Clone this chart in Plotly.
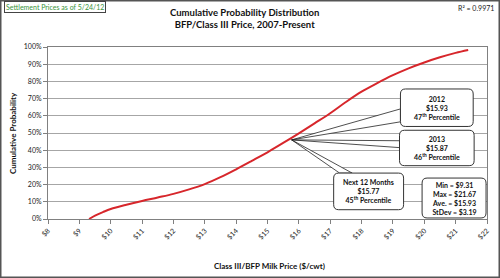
import plotly.graph_objects as go

# cumulative probability curve
price = [9.31, 9.5, 9.75, 10, 10.5, 11, 11.5, 12, 12.5, 13, 13.5, 14, 14.5, 15,
         15.5, 16, 16.5, 17, 17.5, 18, 18.5, 19, 19.5, 20, 20.5, 21, 21.4]
cum_prob = [0, 2.0, 4.0, 5.8, 8.3, 10.5, 12.5, 14.6, 17.2, 20.3, 24.3, 28.9, 33.8, 38.8,
            44.2, 49.8, 55.6, 61.5, 68.0, 74.0, 79.0, 83.6, 87.6, 91.0, 94.0, 96.6, 98.3]

x_ticks = list(range(8, 23))
y_ticks = [0, 10, 20, 30, 40, 50, 60, 70, 80, 90, 100]

# callout labels
callout_titles = ["2012", "2013", "Next 12 Months"]
callout_prices = [15.93, 15.87, 15.77]
callout_pctl = [47, 46, 45]
stats_names = ["Min =", "Max =", "Ave. =", "StDev ="]
stats_values = [9.31, 21.67, 15.93, 3.19]
r_squared = 0.9971
tip_price = 15.77
tip_prob = 46

W, H = 500, 278
L, R, T, B = 48, 13, 47, 59
PW, PH = W - L - R, H - T - B
FONT = "Lato"


def px(x):
    return (x - L) / PW


def py(y):
    return 1 - (y - T) / PH


def rounded(x0, x1, y0, y1, r=5):
    rx = r * 14 / PW
    ry = r * 100 / PH
    return (f"M {x0+rx},{y1} L {x1-rx},{y1} Q {x1},{y1} {x1},{y1-ry} "
            f"L {x1},{y0+ry} Q {x1},{y0} {x1-rx},{y0} L {x0+rx},{y0} "
            f"Q {x0},{y0} {x0},{y0+ry} L {x0},{y1-ry} Q {x0},{y1} {x0+rx},{y1} Z")


fig = go.Figure()
fig.add_trace(go.Scatter(x=price, y=cum_prob, mode="lines", line_shape="spline",
                         line=dict(color="#d7262b", width=2), hoverinfo="skip"))

# box placement (data units) for each callout: x0, x1, y0, y1, wedge ends
boxes = [
    dict(b=(19.24, 21.56, 53.8, 75.6), w=((19.24, 64.0), (19.24, 56.5))),
    dict(b=(19.21, 21.59, 31.0, 51.6), w=((19.21, 45.5), (19.21, 41.5))),
    dict(b=(17.11, 19.34, 5.4, 26.7), w=((17.30, 26.7), (17.70, 26.7))),
]
shapes = []
annos = []
bold = dict(family=FONT, size=7, color="#111", weight="bold")
for bx in boxes:
    (a, b_) = bx["w"]
    shapes.append(dict(type="path", xref="x", yref="y",
                       path=f"M {tip_price},{tip_prob} L {a[0]},{a[1]} L {b_[0]},{b_[1]} Z",
                       fillcolor="white", line=dict(color="#222", width=0.8), layer="above"))
for i, bx in enumerate(boxes):
    x0, x1, y0, y1 = bx["b"]
    shapes.append(dict(type="path", xref="x", yref="y", path=rounded(x0, x1, y0, y1),
                       fillcolor="white", line=dict(color="#333", width=1), layer="above"))
    annos.append(dict(x=(x0 + x1) / 2, y=(y0 + y1) / 2, xref="x", yref="y", showarrow=False,
                      xanchor="center", yanchor="middle",
                      text=f"{callout_titles[i]}<br>${callout_prices[i]:.2f}<br>"
                           f"{callout_pctl[i]}<sup>th</sup> Percentile",
                      font=bold))

# stats box
shapes.append(dict(type="path", xref="x", yref="y", path=rounded(19.93, 21.97, 0.6, 23.8),
                   fillcolor="white", line=dict(color="#333", width=1), layer="above"))
stats_txt = "<br>".join(f"{n} ${v:.2f}" for n, v in zip(stats_names, stats_values))
annos.append(dict(x=20.95, y=12.2, xref="x", yref="y", showarrow=False, text=stats_txt,
                  xanchor="center", yanchor="middle", font=bold))

# outer frame
shapes.append(dict(type="rect", xref="paper", yref="paper",
                   x0=px(0.5), x1=px(W - 0.5), y0=py(H - 0.5), y1=py(0.5),
                   line=dict(color="#555", width=2)))

annos += [
    dict(x=px(55), y=py(7), xref="paper", yref="paper", showarrow=False,
         xanchor="center", yanchor="middle",
         text="Settlement Prices as of 5/24/12", bgcolor="white",
         bordercolor="#444", borderwidth=1, borderpad=1,
         font=dict(family=FONT, size=7, color="#3a943a")),
    dict(x=px(476), y=py(8), xref="paper", yref="paper", showarrow=False,
         xanchor="center", yanchor="middle",
         text=f"R² = {r_squared}", font=dict(family=FONT, size=7, color="#222")),
    dict(x=px(244), y=py(19), xref="paper", yref="paper", showarrow=False,
         xanchor="center", yanchor="middle",
         text="Cumulative Probability Distribution<br>BFP/Class III Price, 2007-Present",
         font=dict(family=FONT, size=9.5, color="#111", weight="bold")),
    dict(x=px(269), y=py(266), xref="paper", yref="paper", showarrow=False,
         xanchor="center", yanchor="middle",
         text="Class III/BFP Milk Price ($/cwt)",
         font=dict(family=FONT, size=8, color="#111", weight="bold")),
    dict(x=px(13), y=py(133), xref="paper", yref="paper", showarrow=False, textangle=-90,
         xanchor="center", yanchor="middle",
         text="Cumulative Probability",
         font=dict(family=FONT, size=8, color="#111", weight="bold")),
]

fig.update_layout(
    width=W, height=H, margin=dict(l=L, r=R, t=T, b=B, autoexpand=False),
    paper_bgcolor="white", plot_bgcolor="white", showlegend=False,
    shapes=shapes, annotations=annos,
    font=dict(family=FONT, size=7, color="#222"),
)
fig.update_xaxes(range=[8, 22], tickvals=x_ticks, ticktext=[f"${v}" for v in x_ticks],
                 tickangle=-45, showgrid=False, zeroline=False, automargin=False,
                 showline=True, linecolor="#808080", linewidth=1, mirror=True,
                 ticks="outside", ticklen=4, tickcolor="#808080",
                 tickfont=dict(family=FONT, size=7, color="#222"))
fig.update_yaxes(range=[0, 100], tickvals=y_ticks, ticktext=[f"{v}%" for v in y_ticks],
                 showgrid=True, gridcolor="#a6a6a6", gridwidth=1, zeroline=False,
                 automargin=False,
                 showline=True, linecolor="#808080", linewidth=1, mirror=True,
                 ticks="outside", ticklen=4, tickcolor="#808080",
                 tickfont=dict(family=FONT, size=7, color="#222"))

# page body has a default 8px margin; drop it so the figure sits at the window corner
fig.write_html("out.html", config={"displayModeBar": False},
               post_script="document.body.style.margin='0';")
